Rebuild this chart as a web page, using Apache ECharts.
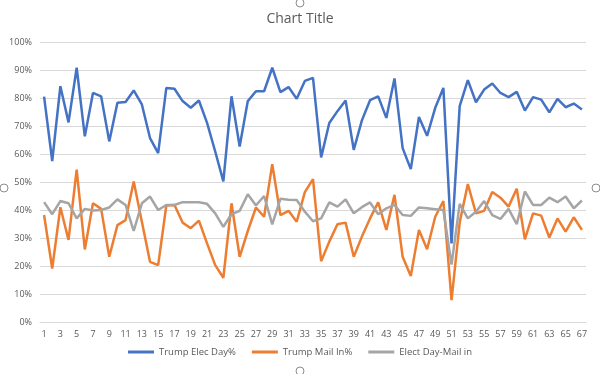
<!DOCTYPE html>
<html><head><meta charset="utf-8">
<script src="https://cdn.jsdelivr.net/npm/echarts@6/dist/echarts.min.js"></script>
<style>html,body{margin:0;padding:0;background:#fff}#c{width:600px;height:374px}</style>
</head><body><div id="c"></div>
<script>
const categories = Array.from({length: 67}, (_, i) => String(i + 1));
const electionDay = [80.5,57.5,84.2,71.3,90.8,66.3,81.8,80.6,64.5,78.3,78.6,82.7,77.7,65.7,60.3,
  83.6,83.3,78.9,76.5,79.1,71.1,60.9,50.2,80.6,62.7,78.9,82.4,82.4,90.8,82.1,83.9,79.7,86.1,87.2,
  58.8,71.1,75.3,79.1,61.5,72.0,79.2,80.6,72.9,87.0,62.1,54.6,73.2,66.5,76.5,83.6,28.1,
  77.1,86.4,78.5,83.0,85.2,81.8,80.3,82.2,75.5,80.3,79.4,74.9,79.7,76.7,78.0,75.9];
const mailIn = [38.2,19.1,41.0,29.3,54.4,25.9,42.4,40.4,23.3,34.6,36.4,50.2,35.8,21.5,20.3,
  41.6,41.8,35.5,33.5,36.2,28.1,20.3,15.8,42.4,23.3,32.5,40.9,37.6,56.4,38.2,39.7,35.8,46.4,51.0,
  21.7,28.7,34.9,35.5,23.3,30.5,37.0,42.7,32.9,45.4,23.3,16.4,32.9,26.0,37.6,43.2,7.8,
  35.5,49.3,38.8,39.7,46.4,44.4,41.2,47.6,29.5,38.8,38.0,30.2,37.0,32.3,37.4,32.9];
const diff = [42.8,38.5,43.2,42.4,37.0,40.4,39.8,40.0,40.9,43.8,41.8,32.5,42.4,44.8,40.0,
  41.8,41.8,42.8,42.8,42.8,42.2,38.8,34.0,38.5,39.7,45.6,41.6,45.0,34.9,44.0,43.7,43.6,39.4,36.0,
  37.0,42.7,41.2,43.8,38.8,41.0,42.7,38.5,40.6,41.8,38.2,37.9,40.9,40.6,40.3,40.0,20.5,
  42.2,37.0,39.4,43.2,38.2,36.8,40.4,34.9,46.6,41.8,41.8,44.4,42.8,44.8,40.6,43.4];
const seriesNames = ['Trump Elec Day%', 'Trump Mail In%', 'Elect Day-Mail in'];
const colors = ['#4472C4', '#ED7D31', '#A5A5A5'];
const font = 'Open Sans';

const chart = echarts.init(document.getElementById('c'), null, {renderer: 'canvas'});
const handle = (x, y) => ({type: 'circle', shape: {cx: x, cy: y, r: 4}, style: {fill: '#fff', stroke: '#8c8c8c', lineWidth: 1}, silent: true});
chart.setOption({
  animation: false,
  color: colors,
  title: {text: 'Chart Title', left: 'center', top: 7,
    textStyle: {fontFamily: font, fontSize: 14, fontWeight: 'normal', color: '#595959'}},
  grid: {left: 40, right: 14, top: 42, bottom: 52},
  legend: {bottom: 12, left: 'center', itemWidth: 26, itemHeight: 3, itemGap: 16, icon: 'rect',
    textStyle: {fontFamily: font, fontSize: 9.5, color: '#595959'},
    data: seriesNames},
  xAxis: {type: 'category', data: categories, boundaryGap: true,
    axisLine: {lineStyle: {color: '#D9D9D9'}}, axisTick: {show: false},
    axisLabel: {interval: 1, fontFamily: font, fontSize: 9, color: '#595959', margin: 8}},
  yAxis: {type: 'value', min: 0, max: 100, interval: 10,
    axisLine: {show: false}, axisTick: {show: false},
    splitLine: {lineStyle: {color: '#D9D9D9'}},
    axisLabel: {formatter: '{value}%', fontFamily: font, fontSize: 9, color: '#595959', margin: 8}},
  series: [
    {name: seriesNames[0], type: 'line', data: electionDay, showSymbol: false, lineStyle: {width: 2.5}},
    {name: seriesNames[1], type: 'line', data: mailIn, showSymbol: false, lineStyle: {width: 2.5}},
    {name: seriesNames[2], type: 'line', data: diff, showSymbol: false, lineStyle: {width: 2.5}}
  ],
  graphic: [handle(300, 3), handle(4, 188), handle(596, 188), handle(300, 371)]
});
</script></body></html>
